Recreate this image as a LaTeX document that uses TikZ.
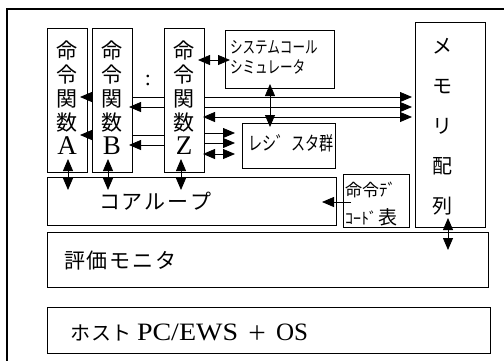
\documentclass[tikz,border=0pt]{standalone}
\usepackage{fontspec}
\usepackage{graphicx}
\setmainfont{Liberation Serif}
\newfontfamily\jp{Noto Sans CJK JP}
\usetikzlibrary{arrows.meta}
\tikzset{
  box/.style={draw, line width=0.9pt, anchor=north west, inner sep=0pt, outer sep=0pt},
  arr/.style={line width=0.8pt, -{Triangle[length=12pt,width=10pt]}},
  darr/.style={line width=0.8pt, {Triangle[length=12pt,width=10pt]}-{Triangle[length=12pt,width=10pt]}},
  plain/.style={line width=0.8pt},
  txt/.style={inner sep=0pt, outer sep=0pt},
}
\begin{document}
\begin{tikzpicture}[x=1pt,y=-1pt]
\useasboundingbox (0,0) rectangle (504,360);
% outer frame
\draw[line width=1.3pt] (7,365) -- (7,9) -- (510,9);
% boxes
\node[box, minimum width=40pt, minimum height=144pt] (A) at (47,28) {};
\node[box, minimum width=40pt, minimum height=144pt] (B) at (92,28) {};
\node[box, minimum width=40pt, minimum height=144pt] (Z) at (164,28) {};
\node[box, minimum width=109pt, minimum height=58pt] (S) at (225,30) {};
\node[box, minimum width=93pt, minimum height=45pt] (R) at (242,123) {};
\node[box, minimum width=70pt, minimum height=205pt] (M) at (415,22) {};
\node[box, minimum width=289pt, minimum height=48pt] (C) at (47,177) {};
\node[box, minimum width=66pt, minimum height=53pt] (D) at (343,174) {};
\node[box, minimum width=441pt, minimum height=55pt] (E) at (47,232) {};
\node[box, minimum width=443pt, minimum height=46pt] (H) at (47,307) {};
% texts
\node[txt, align=center, font=\fontsize{21}{24}\selectfont] (tA) at (67,98) {{\jp 命}\\{\jp 令}\\{\jp 関}\\{\jp 数}\\{\fontsize{27}{24}\selectfont A}};
\node[txt, align=center, font=\fontsize{21}{24}\selectfont] (tB) at (112,98) {{\jp 命}\\{\jp 令}\\{\jp 関}\\{\jp 数}\\{\fontsize{27}{24}\selectfont B}};
\node[txt, align=center, font=\fontsize{21}{24}\selectfont] (tZ) at (184,98) {{\jp 命}\\{\jp 令}\\{\jp 関}\\{\jp 数}\\{\fontsize{27}{24}\selectfont Z}};
\node[txt, font=\fontsize{22}{22}\selectfont] (dots) at (148,80) {:};
\node[txt, anchor=west, align=left, font=\jp\fontsize{17}{20}\selectfont] (tS) at (230,57) {\scalebox{0.74}[1]{システムコール}\\\scalebox{0.74}[1]{シミュレータ}};
\node[txt, font=\jp\fontsize{19}{19}\selectfont] (tR) at (291,143) {\scalebox{0.74}[1]{レシ゛スタ群}};
\node[txt, align=center, font=\jp\fontsize{20}{40}\selectfont] (tM) at (442,127) {メ\\モ\\リ\\配\\列};
\node[txt, anchor=west, font=\jp\fontsize{21}{21}\selectfont] (tC) at (99,201) {コ\hspace{2pt}ア\hspace{2pt}ル\hspace{2pt}ー\hspace{2pt}プ};
\node[txt, anchor=west, font=\jp\fontsize{17}{17}\selectfont] (tD1) at (345,190) {命令ﾃﾞ};
\node[txt, anchor=west, font=\jp\fontsize{17}{17}\selectfont] (tD2) at (345,217) {{\fontsize{16}{16}\selectfont ｺｰﾄﾞ}\hspace{1pt}{\fontsize{19}{19}\selectfont 表}};
\node[txt, anchor=west, font=\jp\fontsize{21}{21}\selectfont] (tE) at (64,261) {評\hspace{2pt}価\hspace{2pt}モ\hspace{2pt}ニ\hspace{2pt}タ};
\node[txt, anchor=west, font=\fontsize{25}{25}\selectfont] (tH) at (70,333) {{\jp\fontsize{20}{20}\selectfont ホ\hspace{1pt}ス\hspace{1pt}ト}\hspace{5pt}\scalebox{1.12}[1]{PC/EWS}\hspace{9pt}{\jp\fontsize{20}{20}\selectfont ＋}\hspace{9pt}OS};
% arrows between function boxes
\draw[arr, shorten >=-7pt] (B.west |- 0,97) -- (A.east |- 0,97);
\draw[arr, shorten >=-7pt] (B.west |- 0,135) -- (A.east |- 0,135);
\draw[plain] (Z.west |- 0,97) -- (B.east |- 0,97);
\draw[plain] (Z.west |- 0,135) -- (B.east |- 0,135);
\draw[arr, shorten >=-3pt] (Z.west |- 0,107) -- (B.east |- 0,107);
\draw[arr, shorten >=-3pt] (Z.west |- 0,145) -- (B.east |- 0,145);
% Z to memory
\draw[arr, shorten >=3pt] (Z.east |- 0,97) -- (M.west |- 0,97);
\draw[arr, shorten >=3pt] (Z.east |- 0,107) -- (M.west |- 0,107);
\draw[darr, shorten <=-1pt, shorten >=3pt] (Z.east |- 0,117) -- (M.west |- 0,117);
% Z to registers
\draw[arr, shorten >=7pt] (Z.east |- 0,133) -- (R.west |- 0,133);
\draw[arr, shorten >=7pt] (Z.east |- 0,143) -- (R.west |- 0,143);
\draw[darr, shorten <=-1pt, shorten >=7pt] (Z.east |- 0,154) -- (R.west |- 0,154);
% Z to syscall
\draw[darr, shorten <=-6pt, shorten >=-5pt] (Z.east |- 0,60) -- (S.west |- 0,60);
% syscall to registers
\draw[darr, shorten <=-4pt, shorten >=-4pt] (S.south -| 270,0) -- (R.north -| 270,0);
% functions to core loop
\draw[darr, shorten <=-13pt, shorten >=-13pt] (A.south -| 68,0) -- (C.north -| 68,0);
\draw[darr, shorten <=-13pt, shorten >=-13pt] (B.south -| 108,0) -- (C.north -| 108,0);
\draw[darr, shorten <=-13pt, shorten >=-13pt] (Z.south -| 181,0) -- (C.north -| 181,0);
% decode table to core loop
\draw[arr, shorten <=-8pt, shorten >=-14pt] (D.west |- 0,202) -- (C.east |- 0,202);
% memory to monitor
\draw[darr, shorten <=-9pt, shorten >=-18pt] (M.south -| 448,0) -- (E.north -| 448,0);
\end{tikzpicture}
\end{document}
